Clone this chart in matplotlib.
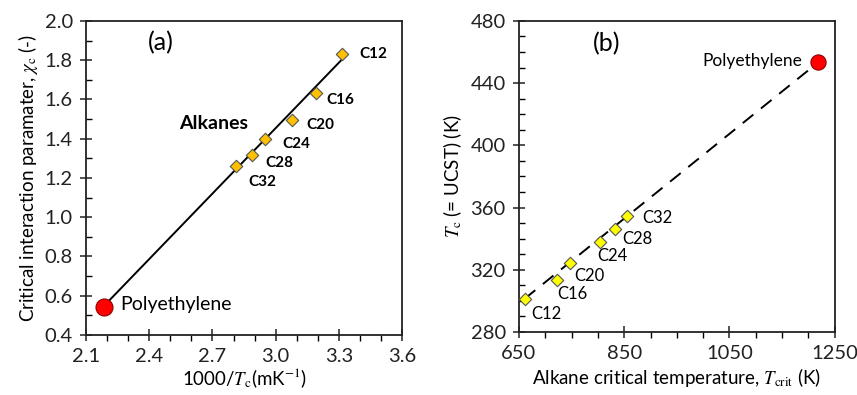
import numpy as np
import matplotlib
matplotlib.use("Agg")
import matplotlib.pyplot as plt
from matplotlib.ticker import MultipleLocator

plt.rcParams['font.family'] = ['Lato', 'DejaVu Sans']
plt.rcParams['mathtext.fontset'] = 'stix'

# panel (a): 1000/Tc vs critical chi
labels = ['C12', 'C16', 'C20', 'C24', 'C28', 'C32']
inv_tc = [3.316, 3.19, 3.079, 2.951, 2.886, 2.811]
chi_c = [1.834, 1.631, 1.493, 1.398, 1.318, 1.259]
pe_inv_tc = 2.187
pe_chi = 0.545
fit_a_x = [2.19, 3.32]
fit_a_y = [0.553, 1.81]

# panel (b): alkane Tcrit vs UCST
t_crit = [660.8, 721.6, 747.6, 804.6, 833.1, 855.3]
t_ucst = [301.4, 313.2, 324.3, 337.8, 346.3, 354.9]
pe_tcrit = 1218.4
pe_ucst = 453.3
fit_b_x = [660.8, 1218.4]
fit_b_y = [301.4, 453.3]
b_xticks = [650, 850, 1050, 1250]

fig = plt.figure(figsize=(8.57, 3.95), dpi=100)
ax1 = fig.add_axes([0.1003, 0.152, 0.369, 0.795])
ax2 = fig.add_axes([0.6056, 0.1595, 0.3684, 0.7875])

for ax in (ax1, ax2):
    for s in ax.spines.values():
        s.set_linewidth(1.3)
        s.set_color('#222222')
    ax.tick_params(which='major', direction='inout', length=9, width=1.1,
                   labelsize=14.5, colors='#222222', pad=5)
    ax.tick_params(axis='y', which='minor', direction='in', length=4, width=1.0)
    ax.tick_params(axis='x', which='minor', direction='out', length=4, width=1.0)

# (a)
ax1.plot(fit_a_x, fit_a_y, color='black', lw=1.4, zorder=2)
ax1.scatter(inv_tc, chi_c, marker='D', s=40, color='#FFC000',
            edgecolor='#555555', linewidth=0.8, zorder=3)
ax1.scatter([pe_inv_tc], [pe_chi], s=150, color='#FF0000',
            edgecolor='#8B0000', linewidth=0.8, zorder=4)
offs_a = [(12, 0), (8, -4.5), (10, -3), (12, -3.6), (10, -6), (9, -11)]
for lab, x, y, o in zip(labels, inv_tc, chi_c, offs_a):
    ax1.annotate(lab, (x, y), xytext=o, textcoords='offset points',
                 fontsize=11, fontweight='bold', va='center', ha='left')
ax1.annotate('Polyethylene', (pe_inv_tc, pe_chi), xytext=(11.5, 1.5),
             textcoords='offset points', fontsize=14, va='center')
ax1.text(2.54, 1.479, 'Alkanes', fontsize=14, fontweight='bold', va='center')
ax1.text(2.395, 1.89, '(a)', fontsize=18, va='center')
ax1.set_xlim(2.1, 3.6)
ax1.set_ylim(0.4, 2.0)
ax1.xaxis.set_major_locator(MultipleLocator(0.3))
ax1.xaxis.set_minor_locator(MultipleLocator(0.1))
ax1.yaxis.set_major_locator(MultipleLocator(0.2))
ax1.yaxis.set_minor_locator(MultipleLocator(0.1))
ax1.xaxis.set_major_formatter(plt.FormatStrFormatter('%.1f'))
ax1.yaxis.set_major_formatter(plt.FormatStrFormatter('%.1f'))
ax1.set_xlabel(r'1000/$\mathit{T}_\mathrm{c}$(mK$^{-1}$)', fontsize=13.5, labelpad=1)
ax1.set_ylabel(r'Critical interaction paramater, $\chi_\mathrm{c}$ (-)', fontsize=13.5, labelpad=3)

# (b)
ax2.plot(fit_b_x, fit_b_y, color='black', lw=1.4, dashes=(7, 5), zorder=2)
ax2.scatter(t_crit, t_ucst, marker='D', s=40, color='#FFFF00',
            edgecolor='#555555', linewidth=0.8, zorder=3)
ax2.scatter([pe_tcrit], [pe_ucst], s=120, color='#FF0000',
            edgecolor='#8B0000', linewidth=0.8, zorder=4)
offs_b = [(4.5, -11), (0.7, -9.5), (3, -9), (-2, -10), (5, -7), (11, -2)]
for lab, x, y, o in zip(labels, t_crit, t_ucst, offs_b):
    ax2.annotate(lab, (x, y), xytext=o, textcoords='offset points',
                 fontsize=12, va='center', ha='left')
ax2.annotate('Polyethylene', (pe_tcrit, pe_ucst), xytext=(-11.5, 1),
             textcoords='offset points', fontsize=12.5, va='center', ha='right')
ax2.text(790, 465.5, '(b)', fontsize=18, va='center')
ax2.set_xlim(650, 1250)
ax2.set_ylim(280, 480)
ax2.set_xticks(b_xticks)
ax2.xaxis.set_minor_locator(MultipleLocator(50))
ax2.yaxis.set_major_locator(MultipleLocator(40))
ax2.yaxis.set_minor_locator(MultipleLocator(10))
ax2.set_xlabel(r'Alkane critical temperature, $\mathit{T}_\mathrm{crit}$ (K)', fontsize=13.5, labelpad=3)
ax2.set_ylabel(r'$\mathit{T}_\mathrm{c}$ (= UCST) (K)', fontsize=13.5, labelpad=5)

fig.savefig('out.png', dpi=100)
